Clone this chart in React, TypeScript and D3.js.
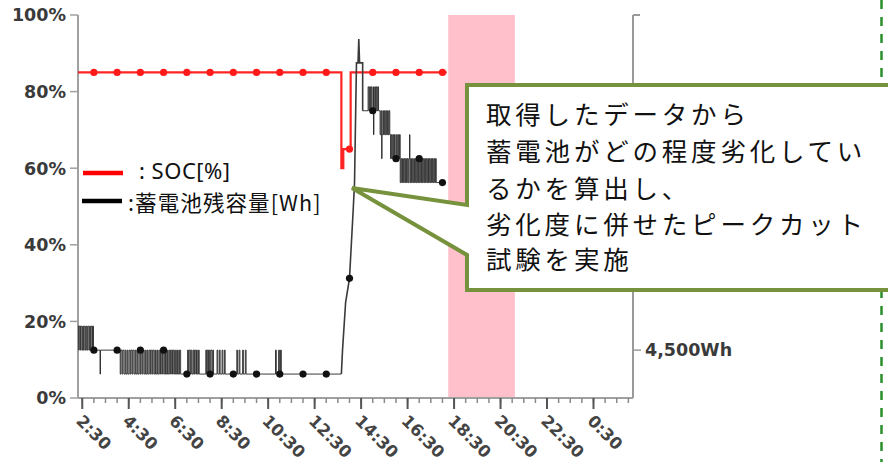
import React from 'react';
import * as d3 from 'd3';

const W = 888;
const H = 462;

// time in minutes from 0:00 (values beyond 1440 are the next day)
const timeDomain: [number, number] = [139, 1572];
const pctTicks = [0, 20, 40, 60, 80, 100];
const pctTickLabels = ['0%', '20%', '40%', '60%', '80%', '100%'];
const whDomain: [number, number] = [4000, 8000];
const whTicks = [4500];
const whTickLabels = ['4,500Wh'];
const majorTickTimes = [150, 270, 390, 510, 630, 750, 870, 990, 1110, 1230, 1350, 1470];
const majorTickLabels = ['2:30', '4:30', '6:30', '8:30', '10:30', '12:30', '14:30', '16:30', '18:30', '20:30', '22:30', '0:30'];
const peakCutBand: [number, number] = [1095, 1267];

const legendLabels = [': SOC[%]', ':蓄電池残容量[Wh]'];
const calloutLines = [
  '取得したデータから',
  '蓄電池がどの程度劣化してい',
  'るかを算出し、',
  '劣化度に併せたピークカット',
  '試験を実施',
];

// SOC [%] (step)
const socSeries: [number, number][] = [
  [139, 85], [819, 60], [824, 65], [843, 85], [1091, 85],
];
const socMarkers: [number, number][] = [
  [180, 85], [240, 85], [300, 85], [360, 85], [420, 85], [480, 85], [540, 85], [600, 85],
  [660, 85], [720, 85], [780, 85], [840, 65], [900, 85], [960, 85], [1020, 85], [1080, 85],
];

// Battery remaining [Wh] (step) before the charge ramp
const batteryPre: [number, number][] = [
  [139, 4750], [141, 4500], [142, 4750], [145, 4500], [146, 4750], [149, 4500], [151, 4750], [153, 4500],
  [155, 4750], [158, 4500], [160, 4750], [162, 4500], [164, 4750], [167, 4500], [169, 4750], [171, 4500],
  [173, 4750], [176, 4500], [177, 4750], [179, 4500],
  [196, 4250], [197, 4500],
  [248, 4250], [250, 4500], [253, 4250], [255, 4500], [258, 4250], [261, 4500], [263, 4250], [266, 4500],
  [268, 4250], [271, 4500], [274, 4250], [276, 4500], [279, 4250], [281, 4500], [284, 4250], [287, 4500],
  [289, 4250], [292, 4500], [294, 4250], [297, 4500], [300, 4250], [302, 4500], [305, 4250], [307, 4500],
  [310, 4250], [313, 4500], [315, 4250], [318, 4500], [320, 4250], [323, 4500], [326, 4250], [328, 4500],
  [331, 4250], [333, 4500], [336, 4250], [339, 4500], [341, 4250], [344, 4500], [346, 4250], [349, 4500],
  [352, 4250], [354, 4500], [357, 4250], [359, 4500], [362, 4250], [365, 4500], [367, 4250], [370, 4500],
  [372, 4250], [375, 4500], [378, 4250], [380, 4500], [383, 4250], [385, 4500], [388, 4250], [391, 4500],
  [393, 4250], [396, 4500], [398, 4250], [401, 4500], [404, 4250],
  [422, 4500], [424, 4250], [426, 4500], [429, 4250], [431, 4500], [433, 4250], [436, 4500], [438, 4250],
  [440, 4500], [443, 4250], [445, 4500], [447, 4250], [450, 4500], [452, 4250],
  [469, 4500], [471, 4250], [473, 4500], [476, 4250], [478, 4500], [480, 4250], [482, 4500], [485, 4250],
  [487, 4500], [489, 4250],
  [498, 4500], [500, 4250], [504, 4500], [506, 4250], [511, 4500], [513, 4250], [517, 4500], [519, 4250],
  [549, 4500], [551, 4250], [555, 4500], [557, 4250], [564, 4500], [566, 4250], [571, 4500], [573, 4250],
  [649, 4500], [651, 4250], [657, 4500], [659, 4250], [662, 4500], [664, 4250],
  [819, 4250],
];
// charge ramp (linear)
const batteryRamp: [number, number][] = [
  [819, 4250], [822, 4500], [830, 5000], [840, 5250], [850, 6000], [853, 6250], [858, 7500],
  [862, 7500], [864, 7750], [866, 7500], [874, 7500], [874, 7000],
];
// after the ramp (step)
const batteryPost: [number, number][] = [
  [874, 7000], [888, 7250], [890, 7000], [892, 7250], [894, 7000], [896, 7250], [898, 7000], [901, 7250],
  [902, 6750], [903, 7000], [905, 7250], [907, 7000], [909, 7250], [911, 7000], [913, 7250], [915, 7000],
  [919, 6750], [921, 7000], [923, 6500], [924, 6750], [926, 7000], [928, 6750], [930, 7000], [932, 6750],
  [934, 7000], [936, 6750], [938, 7000], [940, 6750], [942, 7000], [944, 6750],
  [946, 6500], [948, 6750], [950, 6500], [952, 6750], [954, 6500], [956, 6750], [958, 6500], [961, 6750],
  [963, 6500], [965, 6750], [967, 6500], [969, 6750],
  [971, 6250], [973, 6500], [975, 6250], [977, 6500], [979, 6250], [981, 6500], [983, 6250], [985, 6500],
  [987, 6250], [989, 6500], [991, 6250], [993, 6500],
  [995, 6750], [996, 6250], [998, 6500], [1000, 6250], [1002, 6500], [1004, 6250], [1006, 6500], [1008, 6250],
  [1010, 6500], [1012, 6250], [1014, 6500], [1016, 6250], [1018, 6500], [1020, 6250], [1022, 6500], [1024, 6250],
  [1026, 6500], [1028, 6250], [1030, 6500], [1032, 6250], [1034, 6500], [1036, 6250], [1038, 6500], [1040, 6250],
  [1042, 6500], [1044, 6250], [1046, 6500], [1048, 6250], [1050, 6500], [1052, 6250], [1054, 6500], [1056, 6250],
  [1058, 6500], [1060, 6250], [1062, 6500], [1064, 6250], [1066, 6250], [1086, 6250],
];
const batteryMarkers: [number, number][] = [
  [180, 4500], [240, 4500], [300, 4500], [360, 4500], [420, 4250], [480, 4250], [540, 4250], [600, 4250],
  [660, 4250], [720, 4250], [780, 4250], [840, 5250], [900, 7000], [960, 6500], [1020, 6500], [1080, 6250],
];

export default function App() {
  const x = d3.scaleLinear().domain(timeDomain).range([78, 633]);
  const yPct = d3.scaleLinear().domain([0, 100]).range([398, 15]);
  const yWh = d3.scaleLinear().domain(whDomain).range([398, 15]);

  const stepPct = d3.line<[number, number]>().x(d => x(d[0])).y(d => yPct(d[1])).curve(d3.curveStepAfter);
  const stepWh = d3.line<[number, number]>().x(d => x(d[0])).y(d => yWh(d[1])).curve(d3.curveStepAfter);
  const linWh = d3.line<[number, number]>().x(d => x(d[0])).y(d => yWh(d[1])).curve(d3.curveLinear);

  const minorTicks = d3.range(150, 1572, 30);
  const [x0, x1] = x.range();
  const axisFont = '"DejaVu Sans", Verdana, sans-serif';
  const jpFont = '"Noto Sans CJK JP", "Noto Sans", sans-serif';
  const latinFont = '"Noto Sans", sans-serif';

  const tip = { x: 352, y: 188 };
  const box = { l: 467, t: 85, r: 900, b: 290 };
  const calloutPath = `M${box.l},${box.t} L${box.r},${box.t} L${box.r},${box.b} L${box.l},${box.b} L${box.l},255 L${tip.x},${tip.y} L${box.l},205 Z`;
  const calloutY = [112.5, 149, 186, 222.5, 257];

  return (
    <svg width={W} height={H} style={{ position: 'absolute', left: 0, top: 0, background: '#fff' }}>
      {/* peak-cut band */}
      <rect x={x(peakCutBand[0])} y={yPct(100)} width={x(peakCutBand[1]) - x(peakCutBand[0])}
        height={yPct(0) - yPct(100)} fill="#ffc0cb" />

      {/* green dashed line */}
      <line x1={881.5} x2={881.5} y1={0} y2={H} stroke="#2a8f2a" strokeWidth={2.5} strokeDasharray="9,8" />

      {/* axes */}
      <line x1={x0} x2={x0} y1={yPct(100)} y2={yPct(0)} stroke="#a0a0a0" strokeWidth={2} />
      <line x1={x1} x2={x1} y1={yPct(100)} y2={yPct(0)} stroke="#9a9a9a" strokeWidth={2} />
      <line x1={x1} x2={x1 + 7} y1={yPct(100)} y2={yPct(100)} stroke="#9a9a9a" strokeWidth={2} />
      <line x1={x0} x2={x1} y1={yPct(0)} y2={yPct(0)} stroke="#a0a0a0" strokeWidth={2} />

      {pctTicks.map((p, i) => (
        <g key={'p' + i}>
          <line x1={x0 - 8} x2={x0} y1={yPct(p)} y2={yPct(p)} stroke="#a0a0a0" strokeWidth={1.5} />
          <text x={66} y={yPct(p)} dy="0.36em" textAnchor="end" fontFamily={axisFont} fontWeight="bold"
            fontSize={17.5} fill="#3a3a3a">{pctTickLabels[i]}</text>
        </g>
      ))}
      {whTicks.map((w, i) => (
        <g key={'w' + i}>
          <line x1={x1} x2={x1 + 8} y1={yWh(w)} y2={yWh(w)} stroke="#9a9a9a" strokeWidth={1.5} />
          <text x={x1 + 12} y={yWh(w)} dy="0.36em" fontFamily={axisFont} fontWeight="bold"
            fontSize={17.5} fill="#3a3a3a">{whTickLabels[i]}</text>
        </g>
      ))}
      {minorTicks.map((t, i) => (
        <line key={'m' + i} x1={x(t)} x2={x(t)} y1={yPct(0)} y2={yPct(0) + 5} stroke="#8a8a8a" strokeWidth={1.5} />
      ))}
      {majorTickTimes.map((t, i) => (
        <g key={'M' + i}>
          <line x1={x(t)} x2={x(t)} y1={yPct(0)} y2={yPct(0) + 11} stroke="#555" strokeWidth={2} />
          <text transform={`translate(${x(t) - 7},${422}) rotate(45)`} fontFamily={axisFont} fontWeight="bold"
            fontSize={16.5} fill="#444">{majorTickLabels[i]}</text>
        </g>
      ))}

      {/* SOC */}
      <path d={stepPct(socSeries) || ''} fill="none" stroke="#ff2424" strokeWidth={2.2} />
      {socMarkers.map((d, i) => (
        <circle key={'s' + i} cx={x(d[0])} cy={yPct(d[1])} r={3.6} fill="#ff1a1a" />
      ))}

      {/* battery remaining */}
      <path d={stepWh(batteryPre) || ''} fill="none" stroke="#262626" strokeWidth={0.9} />
      <path d={linWh(batteryRamp) || ''} fill="none" stroke="#3a3a3a" strokeWidth={1.6} />
      <path d={stepWh(batteryPost) || ''} fill="none" stroke="#262626" strokeWidth={0.9} />
      {batteryMarkers.map((d, i) => (
        <circle key={'b' + i} cx={x(d[0])} cy={yWh(d[1])} r={3.6} fill="#111" />
      ))}

      {/* legend */}
      <line x1={83} x2={123} y1={173} y2={173} stroke="#ff0000" strokeWidth={4.5} />
      <line x1={82} x2={122} y1={201} y2={201} stroke="#000" strokeWidth={4.5} />
      <text x={139} y={179} fontFamily={latinFont} fontSize={22} letterSpacing={0.5} fill="#111">{legendLabels[0]}</text>
      <text x={128} y={211} fontFamily={jpFont} fontSize={21.5} letterSpacing={1.1} fill="#111">{legendLabels[1]}</text>

      {/* callout */}
      <path d={calloutPath} fill="#fff" stroke="#76923c" strokeWidth={4} strokeLinejoin="miter" />
      {calloutLines.map((s, i) => (
        <text key={'c' + i} x={486} y={calloutY[i]} dominantBaseline="central"
          fontFamily={jpFont} fontSize={25.5} letterSpacing={3.8} fill="#111">{s}</text>
      ))}
    </svg>
  );
}
